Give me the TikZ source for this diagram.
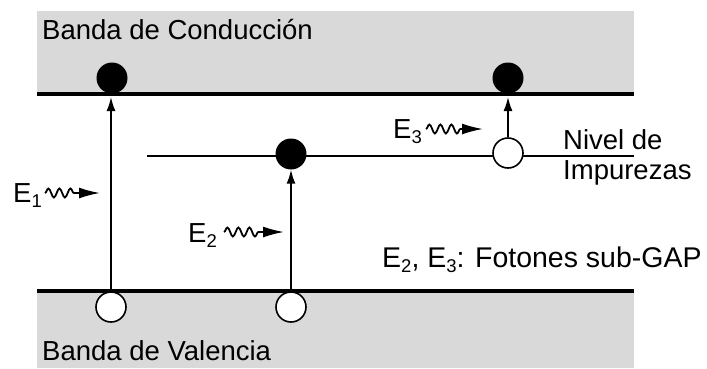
\documentclass[tikz,border=0pt]{standalone}
\usepackage{fontspec}
\setmainfont{Liberation Sans}
\usetikzlibrary{arrows.meta,decorations.pathmorphing}
\definecolor{bandgray}{RGB}{217,217,217}
\newcommand\mysub[1]{\raisebox{-5pt}{\fontsize{18.5}{20}\selectfont #1}}
\begin{document}
\begin{tikzpicture}[x=1pt,y=-1pt,
  band/.style={fill=bandgray, draw=none},
  level/.style={line width=4.5pt},
  implevel/.style={line width=2.5pt},
  elec/.style={circle, fill=black, minimum size=31pt, inner sep=0pt},
  hole/.style={circle, fill=white, draw=black, line width=1.6pt, minimum size=30pt, inner sep=0pt},
  lbl/.style={anchor=base west, inner sep=0pt, font=\fontsize{27.5}{32}\selectfont},
  trans/.style={line width=1.6pt, -{Latex[length=14pt,width=9pt]}},
  wave/.style={line width=1.8pt, decorate, decoration={snake, amplitude=4.5pt, segment length=11pt}},
  head/.style={line width=1.8pt, -{Latex[length=21pt,width=11pt]}}
]
\useasboundingbox (0,0) rectangle (707,368);
% bands
\path[band] (37,11) rectangle (634,94);
\path[band] (37,291) rectangle (634,368);
% level end points
\coordinate (cbL) at (37,94);
\coordinate (cbR) at (634,94);
\coordinate (vbL) at (37,291);
\coordinate (vbR) at (634,291);
\coordinate (imL) at (147,156);
\coordinate (imR) at (634,156);
\draw[level] (cbL) -- (cbR);
\draw[level] (vbL) -- (vbR);
\draw[implevel] (imL) -- (imR);
% carriers
\node[elec] (e1) at (112,78) {};
\node[elec] (e3) at (508,78) {};
\node[elec] (ei) at (291,154) {};
\node[hole] (hi) at (508,153) {};
\node[hole] (h1) at (111,307) {};
\node[hole] (h2) at (291,307) {};
% transitions
\coordinate (t1) at (111,97);
\coordinate (t3) at (508,97);
\draw[trans] (h1.north) -- (t1);
\draw[trans] (h2.north) -- (ei.south);
\draw[trans] (hi.north) -- (t3);
% photons
\node[lbl] (E1) at (13,202) {E\mysub{1}};
\coordinate (w1a) at (45,193); \coordinate (w1b) at (78,193); \coordinate (w1c) at (100,193);
\draw[wave] (w1a) -- (w1b); \draw[head] (w1b) -- (w1c);
\node[lbl] (E2) at (188,242) {E\mysub{2}};
\coordinate (w2a) at (224,232); \coordinate (w2b) at (262,232); \coordinate (w2c) at (284,232);
\draw[wave] (w2a) -- (w2b); \draw[head] (w2b) -- (w2c);
\node[lbl] (E3) at (393,138) {E\mysub{3}};
\coordinate (w3a) at (426,129); \coordinate (w3b) at (462,129); \coordinate (w3c) at (483,129);
\draw[wave] (w3a) -- (w3b); \draw[head] (w3b) -- (w3c);
% texts
\node[lbl] (cb) at (42,39) {Banda de Conducción};
\node[lbl] (vb) at (42,360) {Banda de Valencia};
\node[lbl] (niv) at (563,149) {Nivel de};
\node[lbl] (imp) at (563,179) {Impurezas};
\node[lbl, font=\fontsize{28.5}{32}\selectfont] (sg) at (382,267) {E\mysub{2}, E\mysub{3}: Fotones sub-GAP};
\end{tikzpicture}
\end{document}
